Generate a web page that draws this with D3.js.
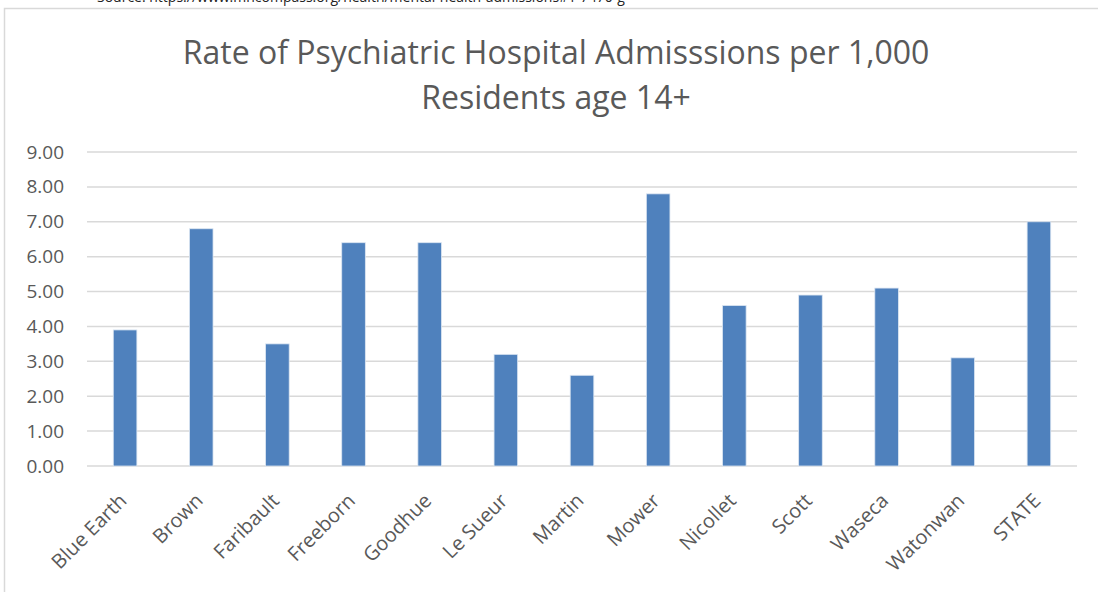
<!DOCTYPE html>
<html>
<head>
<meta charset="utf-8">
<script src="https://cdn.jsdelivr.net/npm/d3@7"></script>
<style>
  body { margin: 0; background: #fff; }
  svg { display: block; }
</style>
</head>
<body>
<div class="viz"></div>
<script>
// data
var counties = ["Blue Earth", "Brown", "Faribault", "Freeborn", "Goodhue", "Le Sueur", "Martin",
                "Mower", "Nicollet", "Scott", "Waseca", "Watonwan", "STATE"];
var rates = [3.9, 6.8, 3.5, 6.4, 6.4, 3.2, 2.6, 7.8, 4.6, 4.9, 5.1, 3.1, 7.0];
var yTicks = [0, 1, 2, 3, 4, 5, 6, 7, 8, 9];
var titleLines = ["Rate of Psychiatric Hospital Admisssions per 1,000", "Residents age 14+"];
var sourceText = "Source: https://www.mncompass.org/health/mental-health-admissions#1-7470-g";

var w = 1098;
var h = 592;
var plotLeft = 87, plotRight = 1077, plotTop = 152, plotBottom = 466;
var font = "'Open Sans', sans-serif";
var grey = "#595959";

var dataset = counties.map(function(c, i) { return { name: c, value: rates[i] }; });

var svg = d3.select(".viz")
    .append("svg")
    .attr("width", w)
    .attr("height", h);

// source line, cut at the top of the picture
svg.append("text")
    .attr("x", 97)
    .attr("y", 2)
    .attr("font-family", font)
    .attr("font-size", "14px")
    .attr("fill", "#222")
    .text(sourceText);

// chart frame
svg.append("rect")
    .attr("x", 4.5)
    .attr("y", 8.5)
    .attr("width", w + 10)
    .attr("height", h + 10)
    .attr("fill", "#fff")
    .attr("stroke", "#d9d9d9")
    .attr("stroke-width", 1.5);

// title
svg.selectAll(".title")
    .data(titleLines)
    .enter()
    .append("text")
    .attr("class", "title")
    .attr("x", 556)
    .attr("y", function(d, i) { return 64 + i * 45; })
    .attr("text-anchor", "middle")
    .attr("font-family", font)
    .attr("font-size", "32px")
    .attr("fill", grey)
    .text(function(d) { return d; });

var xScale = d3.scaleBand()
    .domain(counties)
    .range([plotLeft, plotRight])
    .paddingInner(0.69)
    .paddingOuter(0.345);

var yScale = d3.scaleLinear()
    .domain([0, 9])
    .range([plotBottom, plotTop]);

// gridlines
svg.append("g")
    .selectAll("line")
    .data(yTicks)
    .enter()
    .append("line")
    .attr("x1", plotLeft)
    .attr("x2", plotRight)
    .attr("y1", function(d) { return yScale(d); })
    .attr("y2", function(d) { return yScale(d); })
    .attr("stroke", "#d9d9d9")
    .attr("stroke-width", 1.5);

// y axis labels
var yaxis = d3.axisLeft(yScale)
    .tickValues(yTicks)
    .tickFormat(d3.format(".2f"))
    .tickSize(0)
    .tickPadding(23);

var gy = svg.append("g")
    .attr("class", "y axis")
    .attr("transform", "translate(" + plotLeft + ",0)")
    .call(yaxis);
gy.select(".domain").remove();
gy.selectAll("text")
    .attr("font-family", font)
    .attr("font-size", "19px")
    .attr("fill", grey);

// bars
svg.selectAll("rect.bar")
    .data(dataset)
    .enter()
    .append("rect")
    .attr("class", "bar")
    .attr("x", function(d) { return xScale(d.name); })
    .attr("y", function(d) { return yScale(d.value); })
    .attr("width", xScale.bandwidth())
    .attr("height", function(d) { return plotBottom - yScale(d.value); })
    .attr("fill", "#4f81bd")
    .attr("stroke", "#dce6f2")
    .attr("stroke-width", 0.8);

// x axis
var xaxis = d3.axisBottom(xScale).tickSize(0).tickPadding(0);
var gx = svg.append("g")
    .attr("class", "x axis")
    .attr("transform", "translate(0," + plotBottom + ")")
    .call(xaxis);
gx.select(".domain").remove();
gx.selectAll("text")
    .attr("font-family", font)
    .attr("font-size", "20px")
    .attr("fill", grey)
    .attr("text-anchor", "end")
    .attr("y", 0)
    .attr("dy", "0.35em")
    .attr("transform", "translate(-2,31) rotate(-45)");
</script>
</body>
</html>
